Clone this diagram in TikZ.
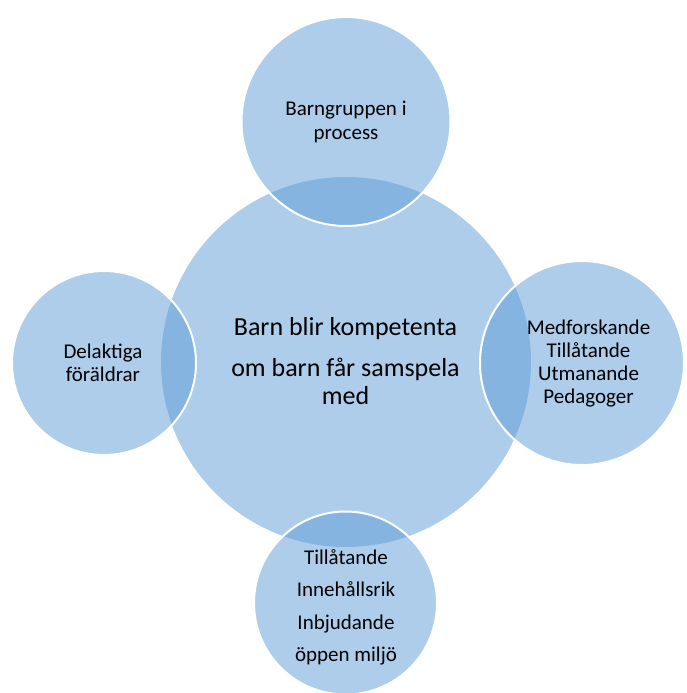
\documentclass[tikz,border=0pt]{standalone}
\usepackage{fontspec}
\setmainfont{Carlito}
\definecolor{bubble}{HTML}{5B9BD5}
\begin{document}
\begin{tikzpicture}[x=1pt,y=-1pt,
  bubblebase/.style={circle, fill=bubble, fill opacity=0.5, inner sep=0pt},
  outerbubble/.style={bubblebase, draw=white, draw opacity=1, line width=2pt},
  lbl/.style={align=center, text=black, inner sep=0pt, anchor=base, font=\fontsize{21}{23}\selectfont}]
\useasboundingbox (0,0) rectangle (686,693);
\node[bubblebase, minimum size=370pt] (hub) at (346,362) {};
\node[outerbubble, minimum size=209pt] (top) at (346,121.5) {};
\node[outerbubble, minimum size=204pt] (right) at (582,363) {};
\node[outerbubble, minimum size=184pt] (left) at (104,363) {};
\node[outerbubble, minimum size=183pt] (bottom) at (345.5,603) {};
\node[lbl, font=\fontsize{26}{28}\selectfont] (hubtext) at (345.5,404) {Barn blir kompetenta\\[13pt]om barn får samspela\\med};
\node[lbl, font=\fontsize{21}{24}\selectfont] (toptext) at (346,139) {Barngruppen i\\process};
\node[lbl] (righttext) at (588.5,403) {Medforskande\\Tillåtande\\Utmanande\\Pedagoger};
\node[lbl] (lefttext) at (103,381) {Delaktiga\\föräldrar};
\node[lbl, font=\fontsize{21}{32.5}\selectfont] (bottomtext) at (346,661.5) {Tillåtande\\Innehållsrik\\Inbjudande\\öppen miljö};
\end{tikzpicture}
\end{document}
